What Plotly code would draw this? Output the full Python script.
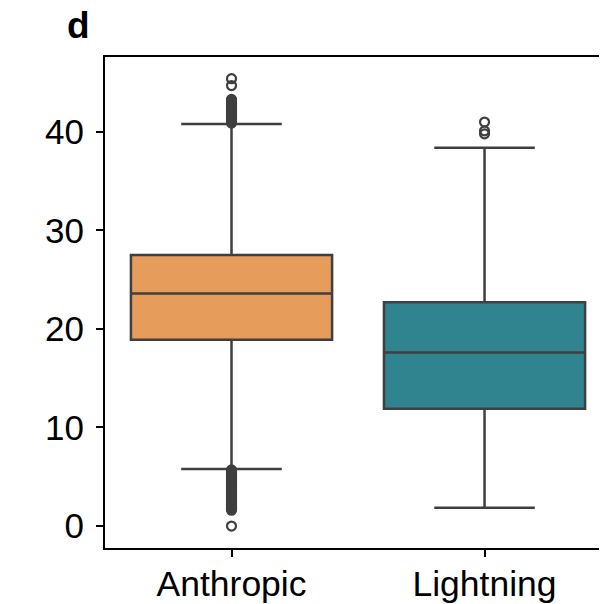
import plotly.graph_objects as go

categories = ["Anthropic", "Lightning"]
q1 = [18.9, 11.9]
median = [23.6, 17.6]
q3 = [27.5, 22.7]
lower_whisker = [5.8, 1.85]
upper_whisker = [40.8, 38.4]
box_colors = ["#E69D5B", "#2F8490"]

anthropic_outliers = [
    45.4, 44.7, 43.3, 43.2, 43.1, 43.0, 42.9, 42.8, 42.7, 42.6, 42.5, 42.4,
    42.3, 42.2, 42.1, 42.0, 41.9, 41.8, 41.7, 41.6, 41.5, 41.4, 41.3, 41.2,
    41.1, 41.0, 40.9,
    5.7, 5.6, 5.5, 5.4, 5.3, 5.2, 5.1, 5.0, 4.9, 4.8, 4.7, 4.6, 4.5, 4.4,
    4.3, 4.2, 4.1, 4.0, 3.9, 3.8, 3.7, 3.6, 3.5, 3.4, 3.3, 3.2, 3.1, 3.0,
    2.9, 2.8, 2.7, 2.6, 2.5, 2.4, 2.3, 2.2, 2.1, 2.0, 1.9, 1.8, 1.7, 1.6,
    0.0,
]
lightning_outliers = [41.0, 40.1, 39.8]
outliers = [anthropic_outliers, lightning_outliers]

line_col = "#3f3f3f"
fig = go.Figure()
for i, cat in enumerate(categories):
    fig.add_trace(go.Box(
        x=[i], q1=[q1[i]], median=[median[i]], q3=[q3[i]],
        lowerfence=[lower_whisker[i]], upperfence=[upper_whisker[i]],
        fillcolor=box_colors[i], line=dict(color=line_col, width=2.5),
        width=0.795, whiskerwidth=0.5, boxpoints=False, showlegend=False,
        hoverinfo="skip",
    ))
    fig.add_trace(go.Scatter(
        x=[i] * len(outliers[i]), y=outliers[i], mode="markers",
        marker=dict(symbol="circle-open", size=9, color=line_col,
                    line=dict(width=2.2, color=line_col)),
        showlegend=False, hoverinfo="skip",
    ))

font = "Liberation Sans, Arial, sans-serif"
fig.update_layout(
    width=607, height=604,
    margin=dict(l=97, r=8, t=49, b=64),
    plot_bgcolor="white", paper_bgcolor="white",
    font=dict(family=font, size=36, color="black"),
)
fig.update_xaxes(
    range=[-0.5, 1.484], tickmode="array", tickvals=[0, 1], ticktext=categories,
    showline=True, linecolor="black", linewidth=2, mirror=True,
    ticks="outside", ticklen=7, tickwidth=2, tickcolor="black",
    showgrid=False, zeroline=False, tickfont=dict(size=35.5),
    automargin=False, ticklabelstandoff=-4,
)
fig.update_yaxes(
    range=[-2.23, 47.6], tickvals=[0, 10, 20, 30, 40],
    showline=True, linecolor="black", linewidth=2,
    ticks="outside", ticklen=7, tickwidth=2, tickcolor="black",
    showgrid=False, zeroline=False, tickfont=dict(size=35),
    automargin=False, ticklabelstandoff=5,
)
fig.add_annotation(text="<b>d</b>", xref="paper", yref="paper", x=-0.053, y=1.018,
                   xanchor="center", yanchor="bottom", showarrow=False,
                   font=dict(size=37, color="black", family=font))
fig.write_html("out.html")
